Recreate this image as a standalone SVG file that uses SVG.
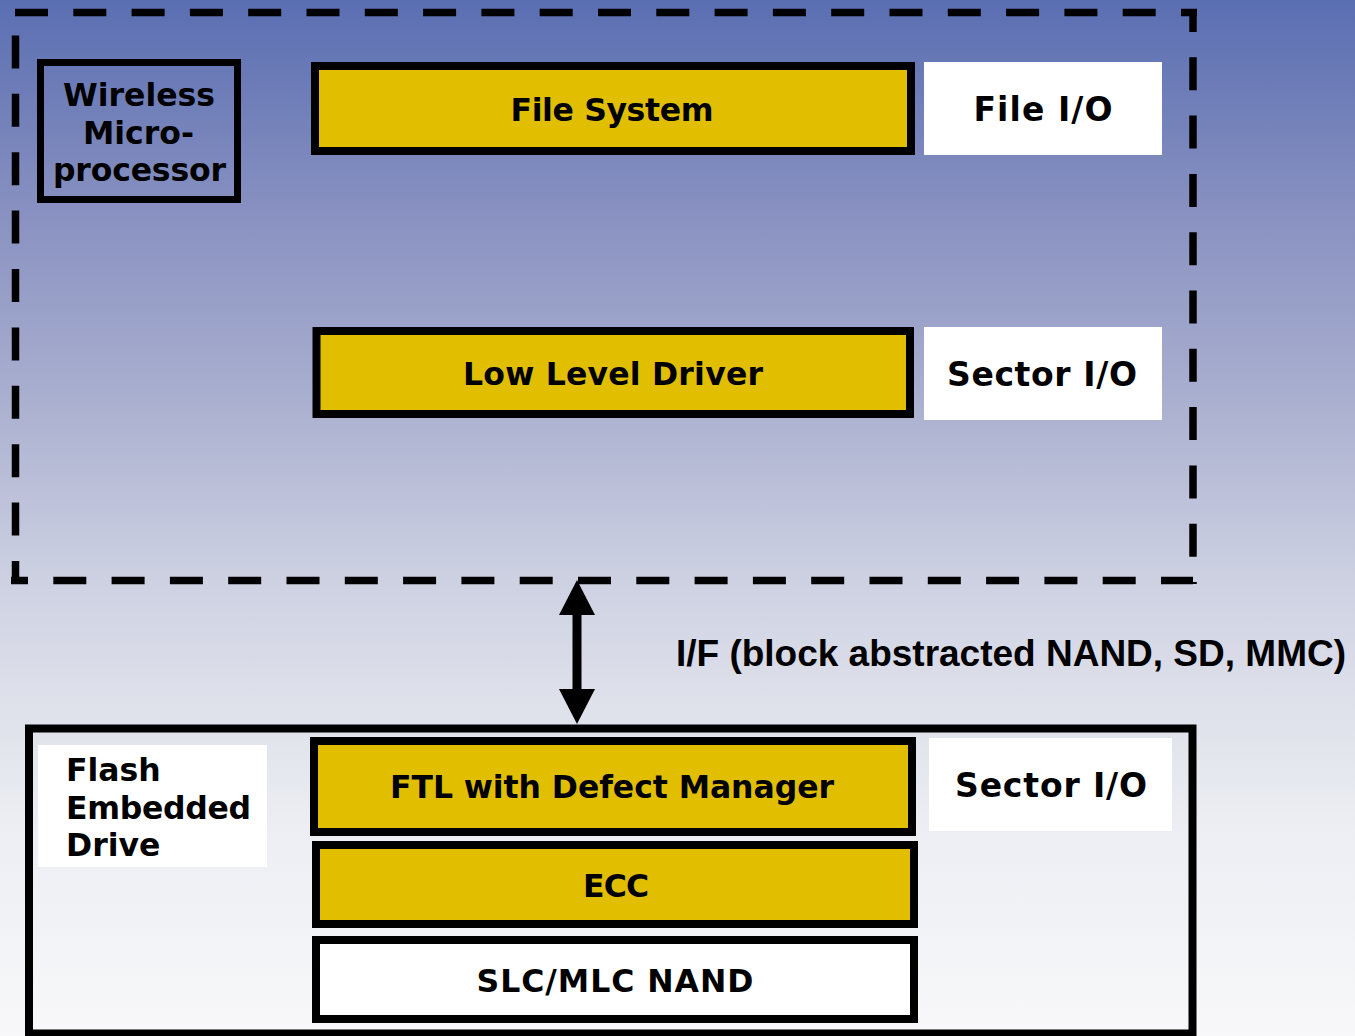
<svg xmlns="http://www.w3.org/2000/svg" width="1355" height="1036" viewBox="0 0 1355 1036">
  <defs>
    <linearGradient id="bg" x1="0" y1="0" x2="0" y2="1">
      <stop offset="0" stop-color="#5a6eb2"/>
      <stop offset="0.2" stop-color="#8790c0"/>
      <stop offset="0.4" stop-color="#adb2d1"/>
      <stop offset="0.56" stop-color="#cdd1e2"/>
      <stop offset="0.66" stop-color="#dcdee9"/>
      <stop offset="0.8" stop-color="#eceef3"/>
      <stop offset="1" stop-color="#f8f8fa"/>
    </linearGradient>
    <marker id="head" viewBox="0 0 35 36" refX="25" refY="18" markerWidth="35" markerHeight="36" markerUnits="userSpaceOnUse" orient="auto-start-reverse">
      <path d="M0,0 L35,18 L0,36 Z" fill="#000"/>
    </marker>
    <style>
      .layer { fill: #e1bf00; stroke: #000; stroke-width: 8; }
      .plain { fill: #ffffff; stroke: #000; stroke-width: 8; }
      .tag { fill: #ffffff; }
      .frame { fill: none; stroke: #000; stroke-width: 8; }
      .dash { fill: none; stroke: #000; stroke-width: 7.5; stroke-dasharray: 33 25.3; }
      .lbl { font-family: "DejaVu Sans", Verdana, sans-serif; font-weight: bold; font-size: 31.5px; fill: #000; }
      .io { font-size: 33px; }
      .mid { text-anchor: middle; }
      .if { font-family: "Liberation Sans", Arial, sans-serif; font-weight: bold; font-size: 37px; fill: #000; }
    </style>
  </defs>

  <rect x="0" y="0" width="1355" height="1036" fill="url(#bg)"/>

  <!-- dashed boundary of the host system -->
  <g id="host-boundary">
    <path class="dash" d="M15,12.5 H1197"/>
    <path class="dash" d="M1193,9 V584" stroke-dashoffset="10"/>
    <path class="dash" d="M11,580.5 H1193" stroke-dashoffset="16"/>
    <path class="dash" d="M15.5,584 V20" stroke-dashoffset="10" style="stroke-dasharray: 33 25.4"/>
  </g>

  <g id="wireless-microprocessor">
    <rect x="40.5" y="62.5" width="197" height="137" fill="none" stroke="#000" stroke-width="7"/>
    <text class="lbl mid" x="139" y="106" textLength="152">Wireless</text>
    <text class="lbl mid" x="138.5" y="144">Micro-</text>
    <text class="lbl mid" x="139.5" y="181" textLength="173">processor</text>
  </g>

  <g id="file-system">
    <rect class="layer" x="315" y="66" width="596" height="85"/>
    <text class="lbl mid" x="612" y="121" textLength="203">File System</text>
  </g>

  <g id="file-io">
    <rect class="tag" x="924" y="62" width="238" height="93"/>
    <text class="lbl io mid" x="1043" y="121" textLength="139">File I/O</text>
  </g>

  <g id="low-level-driver">
    <rect class="layer" x="316.5" y="331" width="593.5" height="83"/>
    <text class="lbl mid" x="613" y="385" textLength="300">Low Level Driver</text>
  </g>

  <g id="sector-io-host">
    <rect class="tag" x="924" y="327" width="238" height="93"/>
    <text class="lbl io mid" x="1042" y="386" textLength="190">Sector I/O</text>
  </g>

  <!-- bus between host and drive -->
  <g id="connectors">
    <line x1="577" y1="590" x2="577" y2="714" stroke="#000" stroke-width="9" marker-start="url(#head)" marker-end="url(#head)"/>
  </g>

  <g id="interface-label">
    <text class="if" x="676" y="666" textLength="670">I/F (block abstracted NAND, SD, MMC)</text>
  </g>

  <g id="flash-embedded-drive">
    <rect class="frame" x="29" y="728.5" width="1163.5" height="305"/>
    <rect class="tag" x="38" y="745" width="229" height="122"/>
    <text class="lbl" x="66" y="781">Flash</text>
    <text class="lbl" x="66" y="819" textLength="185">Embedded</text>
    <text class="lbl" x="66" y="856">Drive</text>
  </g>

  <g id="ftl">
    <rect class="layer" x="314" y="741" width="598" height="91"/>
    <text class="lbl mid" x="612" y="798" textLength="444">FTL with Defect Manager</text>
  </g>

  <g id="sector-io-drive">
    <rect class="tag" x="929" y="738" width="243" height="93"/>
    <text class="lbl io mid" x="1051" y="797" textLength="192">Sector I/O</text>
  </g>

  <g id="ecc">
    <rect class="layer" x="316" y="845" width="598" height="79"/>
    <text class="lbl mid" x="616" y="897" textLength="66">ECC</text>
  </g>

  <g id="nand">
    <rect class="plain" x="316" y="940" width="598" height="79"/>
    <text class="lbl mid" x="615" y="992" textLength="277">SLC/MLC NAND</text>
  </g>
</svg>
